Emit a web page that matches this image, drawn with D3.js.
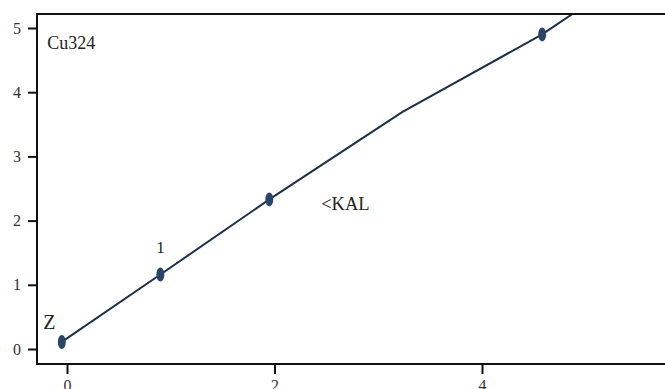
<!DOCTYPE html>
<html>
<head>
<meta charset="utf-8">
<script src="https://cdn.jsdelivr.net/npm/d3@7"></script>
<style>
body { margin: 0; background: #fff; }
</style>
</head>
<body>
<svg id="chart" width="665" height="389"></svg>
<script>
// data
const pointX = [-0.05, 0.9, 1.95, 4.58];
const pointY = [0.11, 1.16, 2.33, 4.9];
const lineX = [-0.05, 0.9, 1.95, 3.23, 4.58, 4.9];
const lineY = [0.11, 1.16, 2.33, 3.69, 4.9, 5.25];
const xTicks = [0, 2, 4];
const yTicks = [0, 1, 2, 3, 4, 5];
const pointLabels = [
	{ text: "Z", x: -0.23, y: 0.31, size: 20 },
	{ text: "1", x: 0.86, y: 1.5, size: 17 }
];
const notes = [
	{ text: "Cu324", x: -0.19, y: 4.67, size: 18 },
	{ text: "<KAL", x: 2.45, y: 2.17, size: 18.5 }
];

const serif = '"Liberation Serif", "DejaVu Serif", serif';
const svg = d3.select("#chart");
const padLeft = 37, padTop = 14, padRight = 700, padBottom = 364;

const x = d3.scaleLinear().domain([0, 4]).range([67, 482]);
const y = d3.scaleLinear().domain([0, 5]).range([349, 28]);

svg.append("clipPath").attr("id", "plot")
	.append("rect").attr("x", padLeft).attr("y", padTop)
	.attr("width", padRight - padLeft).attr("height", padBottom - padTop);

const plot = svg.append("g").attr("clip-path", "url(#plot)");

plot.append("path")
	.datum(lineX.map((d, i) => [d, lineY[i]]))
	.attr("fill", "none")
	.attr("stroke", "#1d3049")
	.attr("stroke-width", 2)
	.attr("d", d3.line().x((d) => x(d[0])).y((d) => y(d[1])));

plot.selectAll("ellipse")
	.data(pointX.map((d, i) => [d, pointY[i]]))
	.enter()
	.append("ellipse")
	.attr("cx", (d) => x(d[0]))
	.attr("cy", (d) => y(d[1]))
	.attr("rx", 4)
	.attr("ry", 7)
	.attr("fill", "#2b4468");

// frame
svg.append("path")
	.attr("d", `M${padRight},${padTop}H${padLeft}V${padBottom}H${padRight}`)
	.attr("fill", "none")
	.attr("stroke", "#111")
	.attr("stroke-width", 2);

const yAxis = svg.append("g")
	.attr("transform", `translate(${padLeft},0)`)
	.call(d3.axisLeft(y).tickValues(yTicks).tickSize(9).tickPadding(7).tickFormat(d3.format("d")));
yAxis.select(".domain").remove();
yAxis.selectAll("line").attr("stroke", "#111").attr("stroke-width", 2);
yAxis.selectAll("text").style("font-family", serif).style("font-size", "16px").attr("fill", "#333");

const xAxis = svg.append("g")
	.attr("transform", `translate(0,${padBottom})`)
	.call(d3.axisBottom(x).tickValues(xTicks).tickSize(10).tickPadding(6).tickFormat(d3.format("d")));
xAxis.select(".domain").remove();
xAxis.selectAll("line").attr("stroke", "#111").attr("stroke-width", 2);
xAxis.selectAll("text").style("font-family", serif).style("font-size", "16px").attr("fill", "#333");

svg.selectAll(".plabel")
	.data(pointLabels.concat(notes))
	.enter()
	.append("text")
	.attr("class", "plabel")
	.attr("x", (d) => x(d.x))
	.attr("y", (d) => y(d.y))
	.style("font-family", serif)
	.style("font-size", (d) => d.size + "px")
	.attr("fill", "#222")
	.text((d) => d.text);
</script>
</body>
</html>
